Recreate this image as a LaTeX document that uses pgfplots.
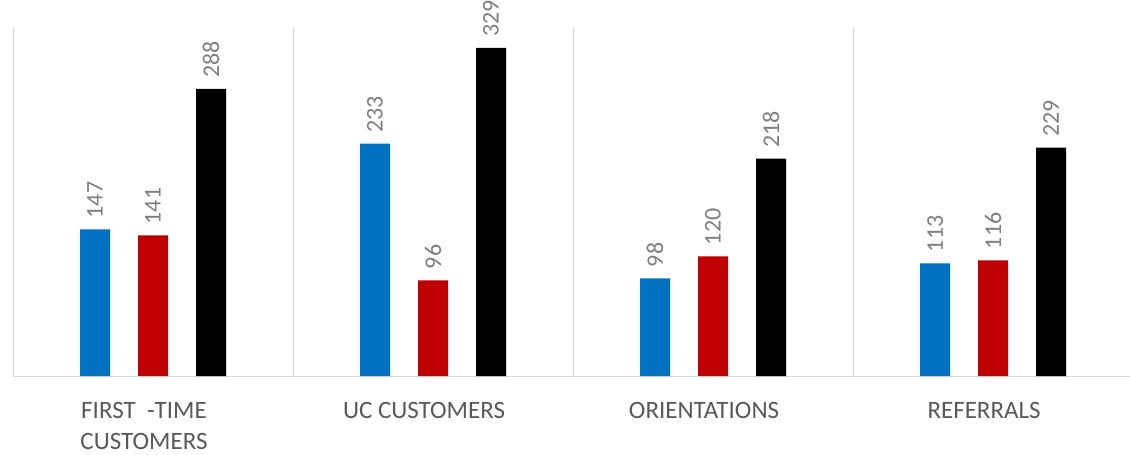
\documentclass[border=0pt]{standalone}
\usepackage{fontspec}
\setmainfont{Carlito}
\usepackage{pgfplots}
\pgfplotsset{compat=1.18}
\definecolor{cblue}{HTML}{0070C0}
\definecolor{cred}{HTML}{C00000}
\definecolor{sep}{HTML}{D9D9D9}
\definecolor{lbl}{HTML}{595959}
\definecolor{vlbl}{HTML}{7F7F7F}
\begin{document}
\begin{tikzpicture}
\useasboundingbox (-13pt,-79pt) rectangle (1117pt,376pt);
\begin{axis}[
  at={(0,0)}, anchor=south west,
  scale only axis, width=1117pt, height=349pt,
  xmin=-0.5, xmax=3.489, ymin=0, ymax=350,
  axis x line=bottom, axis y line=left,
  axis line style={draw=sep, line width=1pt, -},
  ytick=\empty,
  xtick={0,1,2,3},
  xticklabels={{FIRST\ \ -TIME\\CUSTOMERS},{UC CUSTOMERS},{ORIENTATIONS},{REFERRALS}},
  major tick length=0pt,
  xticklabel style={anchor=north, inner sep=0pt, yshift=-26pt, xshift=-9pt, align=center,
    font=\fontsize{25}{31}\selectfont, text=lbl},
  extra x ticks={0.5,1.5,2.5},
  extra x tick labels={},
  extra x tick style={grid=major, major grid style={draw=sep, line width=1pt}},
  ybar, bar width=30pt,
  /pgf/number format/assume math mode=true,
  nodes near coords={\pgfmathprintnumber[assume math mode=true]{\pgfplotspointmeta}},
  every node near coord/.append style={rotate=90, anchor=west, inner xsep=11pt, inner ysep=0pt,
    font=\fontsize{24}{28}\selectfont, text=vlbl},
  clip=false,
]
\addplot[fill=cblue, draw=none, bar shift=-58pt] coordinates {(0,147) (1,233) (2,98) (3,113)};
\addplot[fill=cred, draw=none, bar shift=0pt] coordinates {(0,141) (1,96) (2,120) (3,116)};
\addplot[fill=black, draw=none, bar shift=58pt] coordinates {(0,288) (1,329) (2,218) (3,229)};
\end{axis}
\end{tikzpicture}
\end{document}
